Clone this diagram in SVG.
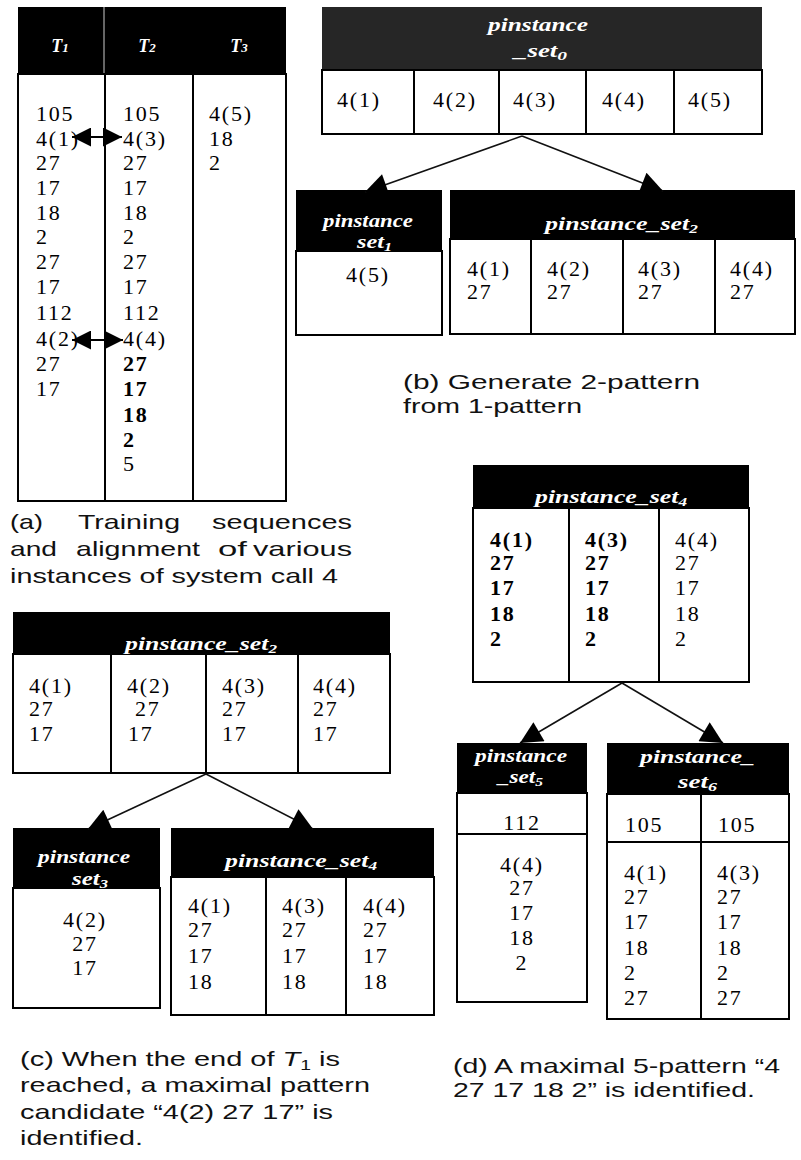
<svg xmlns="http://www.w3.org/2000/svg" width="801" height="1160" viewBox="0 0 801 1160">
<style>
.hd{fill:#000}
.hd0{fill:#262626}
.bx{fill:#fff;stroke:#000;stroke-width:2}
.ln{stroke:#000;stroke-width:2;fill:none}
.n{font-family:"Liberation Serif","Times New Roman",serif;font-size:22px;fill:#000;letter-spacing:1.8px}
.b{font-weight:bold}
.m{text-anchor:middle}
.lb{font-family:"Liberation Serif","Times New Roman",serif;font-style:italic;font-weight:bold;font-size:18px;fill:#fff}
.cap{font-family:"Liberation Sans",Arial,sans-serif;font-size:21px;fill:#111}
.cn{stroke:#111;stroke-width:1.6;fill:none;marker-end:url(#ah)}
</style>
<defs>
<marker id="ah" viewBox="0 0 10 10" refX="10" refY="5" markerUnits="userSpaceOnUse" markerWidth="26" markerHeight="22" orient="auto-start-reverse">
<path d="M0,0 L10,5 L0,10 z" fill="#000"/>
</marker>
<marker id="ah2" viewBox="0 0 10 10" refX="10" refY="5" markerUnits="userSpaceOnUse" markerWidth="22" markerHeight="19" orient="auto-start-reverse">
<path d="M0,0 L10,5 L0,10 z" fill="#000"/>
</marker>
</defs>
<rect width="801" height="1160" fill="#fff"/>

<!-- (a) training sequences table -->
<g id="table-a">
<rect class="hd" x="18" y="7" width="268" height="67"/>
<line x1="104" y1="7" x2="104" y2="74" stroke="#888" stroke-width="1.5"/>
<rect class="bx" x="18" y="74" width="268" height="427"/>
<line class="ln" x1="105" y1="74" x2="105" y2="501"/>
<line class="ln" x1="193" y1="74" x2="193" y2="501"/>
<text class="lb m" x="60" y="52" font-size="16">T<tspan font-size="13">1</tspan></text>
<text class="lb m" x="147" y="52" font-size="16">T<tspan font-size="13">2</tspan></text>
<text class="lb m" x="239" y="52" font-size="16">T<tspan font-size="13">3</tspan></text>
<g class="n">
<text x="36" y="121">105</text>
<text x="36" y="146">4(1)</text>
<text x="36" y="170">27</text>
<text x="36" y="195">17</text>
<text x="36" y="220">18</text>
<text x="36" y="244">2</text>
<text x="36" y="269">27</text>
<text x="36" y="294">17</text>
<text x="36" y="320">112</text>
<text x="36" y="346">4(2)</text>
<text x="36" y="371">27</text>
<text x="36" y="396">17</text>
<text x="123" y="121">105</text>
<text x="123" y="146">4(3)</text>
<text x="123" y="170">27</text>
<text x="123" y="195">17</text>
<text x="123" y="220">18</text>
<text x="123" y="244">2</text>
<text x="123" y="269">27</text>
<text x="123" y="294">17</text>
<text x="123" y="320">112</text>
<text x="123" y="346">4(4)</text>
<text class="b" x="123" y="371">27</text>
<text class="b" x="123" y="396">17</text>
<text class="b" x="123" y="422">18</text>
<text class="b" x="123" y="447">2</text>
<text x="123" y="471">5</text>
<text x="209" y="121">4(5)</text>
<text x="209" y="146">18</text>
<text x="209" y="170">2</text>
</g>
</g>

<!-- (b) pinstance_set0 -->
<g id="set0">
<rect class="hd0" x="322" y="7" width="440" height="63"/>
<rect class="bx" x="322" y="70" width="440" height="64"/>
<line class="ln" x1="414" y1="70" x2="414" y2="134"/>
<line class="ln" x1="499" y1="70" x2="499" y2="134"/>
<line class="ln" x1="586" y1="70" x2="586" y2="134"/>
<line class="ln" x1="674" y1="70" x2="674" y2="134"/>
<text class="lb" x="488" y="31" font-size="20" textLength="100" lengthAdjust="spacingAndGlyphs" fill="#eee">pinstance</text>
<text class="lb" x="514" y="57" font-size="20" textLength="53" lengthAdjust="spacingAndGlyphs" fill="#eee">_set<tspan font-size="13" dy="3">0</tspan></text>
<g class="n">
<text x="337" y="107">4(1)</text>
<text x="433" y="107">4(2)</text>
<text x="513" y="107">4(3)</text>
<text x="602" y="107">4(4)</text>
<text x="688" y="107">4(5)</text>
</g>
</g>

<!-- (b) pinstance_set1 -->
<g id="set1">
<rect class="hd" x="296" y="190" width="146" height="61"/>
<rect class="bx" x="296" y="251" width="146" height="84"/>
<text class="lb" x="323" y="227" textLength="90" lengthAdjust="spacingAndGlyphs">pinstance</text>
<text class="lb" x="357" y="248" textLength="35" lengthAdjust="spacingAndGlyphs">set<tspan font-size="12" dy="3">1</tspan></text>
<text class="n m" x="368" y="282">4(5)</text>
</g>

<!-- (b) pinstance_set2 -->
<g id="set2-b">
<rect class="hd" x="450" y="190" width="345" height="49"/>
<rect class="bx" x="450" y="239" width="345" height="95"/>
<line class="ln" x1="531" y1="239" x2="531" y2="334"/>
<line class="ln" x1="623" y1="239" x2="623" y2="334"/>
<line class="ln" x1="715" y1="239" x2="715" y2="334"/>
<text class="lb" x="545" y="230" textLength="153" lengthAdjust="spacingAndGlyphs">pinstance_set<tspan font-size="12" dy="3">2</tspan></text>
<g class="n">
<text x="467" y="276">4(1)</text><text x="467" y="299">27</text>
<text x="547" y="276">4(2)</text><text x="547" y="299">27</text>
<text x="638" y="276">4(3)</text><text x="638" y="299">27</text>
<text x="730" y="276">4(4)</text><text x="730" y="299">27</text>
</g>
</g>

<!-- (c) pinstance_set2 -->
<g id="set2-c">
<rect class="hd" x="13" y="612" width="377" height="42"/>
<rect class="bx" x="13" y="654" width="377" height="119"/>
<line class="ln" x1="111" y1="654" x2="111" y2="773"/>
<line class="ln" x1="206" y1="654" x2="206" y2="773"/>
<line class="ln" x1="298" y1="654" x2="298" y2="773"/>
<text class="lb" x="125" y="650" textLength="152" lengthAdjust="spacingAndGlyphs">pinstance_set<tspan font-size="12" dy="3">2</tspan></text>
<g class="n">
<text x="29" y="693">4(1)</text><text x="29" y="716">27</text><text x="29" y="741">17</text>
<text x="127" y="693">4(2)</text><text x="135" y="716">27</text><text x="128" y="741">17</text>
<text x="222" y="693">4(3)</text><text x="222" y="716">27</text><text x="222" y="741">17</text>
<text x="313" y="693">4(4)</text><text x="313" y="716">27</text><text x="313" y="741">17</text>
</g>
</g>

<!-- (c) pinstance_set3 -->
<g id="set3">
<rect class="hd" x="13" y="828" width="147" height="60"/>
<rect class="bx" x="13" y="888" width="147" height="120"/>
<text class="lb" x="38" y="863" textLength="92" lengthAdjust="spacingAndGlyphs">pinstance</text>
<text class="lb" x="72" y="885" textLength="36" lengthAdjust="spacingAndGlyphs">set<tspan font-size="12" dy="3">3</tspan></text>
<g class="n m">
<text x="85" y="927">4(2)</text>
<text x="85" y="951">27</text>
<text x="85" y="975">17</text>
</g>
</g>

<!-- (c) pinstance_set4 -->
<g id="set4-c">
<rect class="hd" x="171" y="828" width="263" height="49"/>
<rect class="bx" x="171" y="877" width="263" height="138"/>
<line class="ln" x1="266" y1="877" x2="266" y2="1015"/>
<line class="ln" x1="346" y1="877" x2="346" y2="1015"/>
<text class="lb" x="225" y="867" textLength="152" lengthAdjust="spacingAndGlyphs">pinstance_set<tspan font-size="12" dy="3">4</tspan></text>
<g class="n">
<text x="188" y="913">4(1)</text><text x="188" y="937">27</text><text x="188" y="963">17</text><text x="188" y="989">18</text>
<text x="282" y="913">4(3)</text><text x="282" y="937">27</text><text x="282" y="963">17</text><text x="282" y="989">18</text>
<text x="363" y="913">4(4)</text><text x="363" y="937">27</text><text x="363" y="963">17</text><text x="363" y="989">18</text>
</g>
</g>

<!-- (d) pinstance_set4 -->
<g id="set4-d">
<rect class="hd" x="473" y="465" width="276" height="43"/>
<rect class="bx" x="473" y="508" width="276" height="174"/>
<line class="ln" x1="569" y1="508" x2="569" y2="682"/>
<line class="ln" x1="659" y1="508" x2="659" y2="682"/>
<text class="lb" x="535" y="503" textLength="152" lengthAdjust="spacingAndGlyphs">pinstance_set<tspan font-size="12" dy="3">4</tspan></text>
<g class="n">
<text class="b" x="490" y="547">4(1)</text><text class="b" x="490" y="570">27</text><text class="b" x="490" y="595">17</text><text class="b" x="490" y="621">18</text><text class="b" x="490" y="646">2</text>
<text class="b" x="585" y="547">4(3)</text><text class="b" x="585" y="570">27</text><text class="b" x="585" y="595">17</text><text class="b" x="585" y="621">18</text><text class="b" x="585" y="646">2</text>
<text x="675" y="547">4(4)</text><text x="675" y="570">27</text><text x="675" y="595">17</text><text x="675" y="621">18</text><text x="675" y="646">2</text>
</g>
</g>

<!-- (d) pinstance_set5 -->
<g id="set5">
<rect class="hd" x="457" y="743" width="130" height="50"/>
<rect class="bx" x="457" y="793" width="130" height="209"/>
<line class="ln" x1="457" y1="834" x2="587" y2="834"/>
<text class="lb" x="475" y="762" textLength="92" lengthAdjust="spacingAndGlyphs">pinstance</text>
<text class="lb" x="498" y="783" textLength="45" lengthAdjust="spacingAndGlyphs">_set<tspan font-size="12" dy="3">5</tspan></text>
<g class="n m">
<text x="522" y="830">112</text>
<text x="522" y="872">4(4)</text>
<text x="522" y="895">27</text>
<text x="522" y="920">17</text>
<text x="522" y="945">18</text>
<text x="522" y="970">2</text>
</g>
</g>

<!-- (d) pinstance_set6 -->
<g id="set6">
<rect class="hd" x="607" y="743" width="182" height="51"/>
<rect class="bx" x="607" y="794" width="182" height="225"/>
<line class="ln" x1="607" y1="842" x2="789" y2="842"/>
<line class="ln" x1="701" y1="794" x2="701" y2="1019"/>
<text class="lb" x="640" y="763" textLength="115" lengthAdjust="spacingAndGlyphs">pinstance_</text>
<text class="lb" x="678" y="788" textLength="39" lengthAdjust="spacingAndGlyphs">set<tspan font-size="12" dy="3">6</tspan></text>
<g class="n">
<text x="625" y="832">105</text><text x="718" y="832">105</text>
<text x="624" y="880">4(1)</text><text x="624" y="904">27</text><text x="624" y="929">17</text><text x="624" y="955">18</text><text x="624" y="980">2</text><text x="624" y="1005">27</text>
<text x="717" y="880">4(3)</text><text x="717" y="904">27</text><text x="717" y="929">17</text><text x="717" y="955">18</text><text x="717" y="980">2</text><text x="717" y="1005">27</text>
</g>
</g>

<!-- connectors -->
<g id="connectors">
<line x1="72" y1="137" x2="122" y2="137" stroke="#000" stroke-width="2" marker-start="url(#ah2)" marker-end="url(#ah2)"/>
<line x1="72" y1="340" x2="123" y2="340" stroke="#000" stroke-width="2" marker-start="url(#ah2)" marker-end="url(#ah2)"/>
<line class="cn" x1="522" y1="136" x2="365" y2="192"/>
<line class="cn" x1="522" y1="136" x2="663" y2="191"/>
<line class="cn" x1="206" y1="774" x2="88" y2="829"/>
<line class="cn" x1="206" y1="774" x2="313" y2="829"/>
<line class="cn" x1="622" y1="683" x2="520" y2="743"/>
<line class="cn" x1="622" y1="683" x2="723" y2="743"/>
</g>

<!-- captions -->
<g id="captions" class="cap">
<text x="10" y="529" textLength="33" lengthAdjust="spacingAndGlyphs">(a)</text>
<text x="78" y="529" textLength="102" lengthAdjust="spacingAndGlyphs">Training</text>
<text x="212" y="529" textLength="140" lengthAdjust="spacingAndGlyphs">sequences</text>
<text x="10" y="556" textLength="47" lengthAdjust="spacingAndGlyphs">and</text>
<text x="76" y="556" textLength="124" lengthAdjust="spacingAndGlyphs">alignment</text>
<text x="218" y="556" textLength="29" lengthAdjust="spacingAndGlyphs">of</text>
<text x="253" y="556" textLength="99" lengthAdjust="spacingAndGlyphs">various</text>
<text x="10" y="583" textLength="328" lengthAdjust="spacingAndGlyphs">instances of system call 4</text>
<text x="403" y="389" textLength="297" lengthAdjust="spacingAndGlyphs">(b) Generate 2-pattern</text>
<text x="403" y="413" textLength="179" lengthAdjust="spacingAndGlyphs">from 1-pattern</text>
<text x="20" y="1066" textLength="320" lengthAdjust="spacingAndGlyphs">(c) When the end of <tspan font-style="italic">T</tspan><tspan font-size="14" dy="4">1</tspan><tspan dy="-4"> is</tspan></text>
<text x="20" y="1092" textLength="350" lengthAdjust="spacingAndGlyphs">reached, a maximal pattern</text>
<text x="20" y="1119" textLength="313" lengthAdjust="spacingAndGlyphs">candidate “4(2) 27 17” is</text>
<text x="20" y="1145" textLength="123" lengthAdjust="spacingAndGlyphs">identified.</text>
<text x="453" y="1073" textLength="327" lengthAdjust="spacingAndGlyphs">(d) A maximal 5-pattern “4</text>
<text x="453" y="1097" textLength="302" lengthAdjust="spacingAndGlyphs">27 17 18 2” is identified.</text>
</g>
</svg>
